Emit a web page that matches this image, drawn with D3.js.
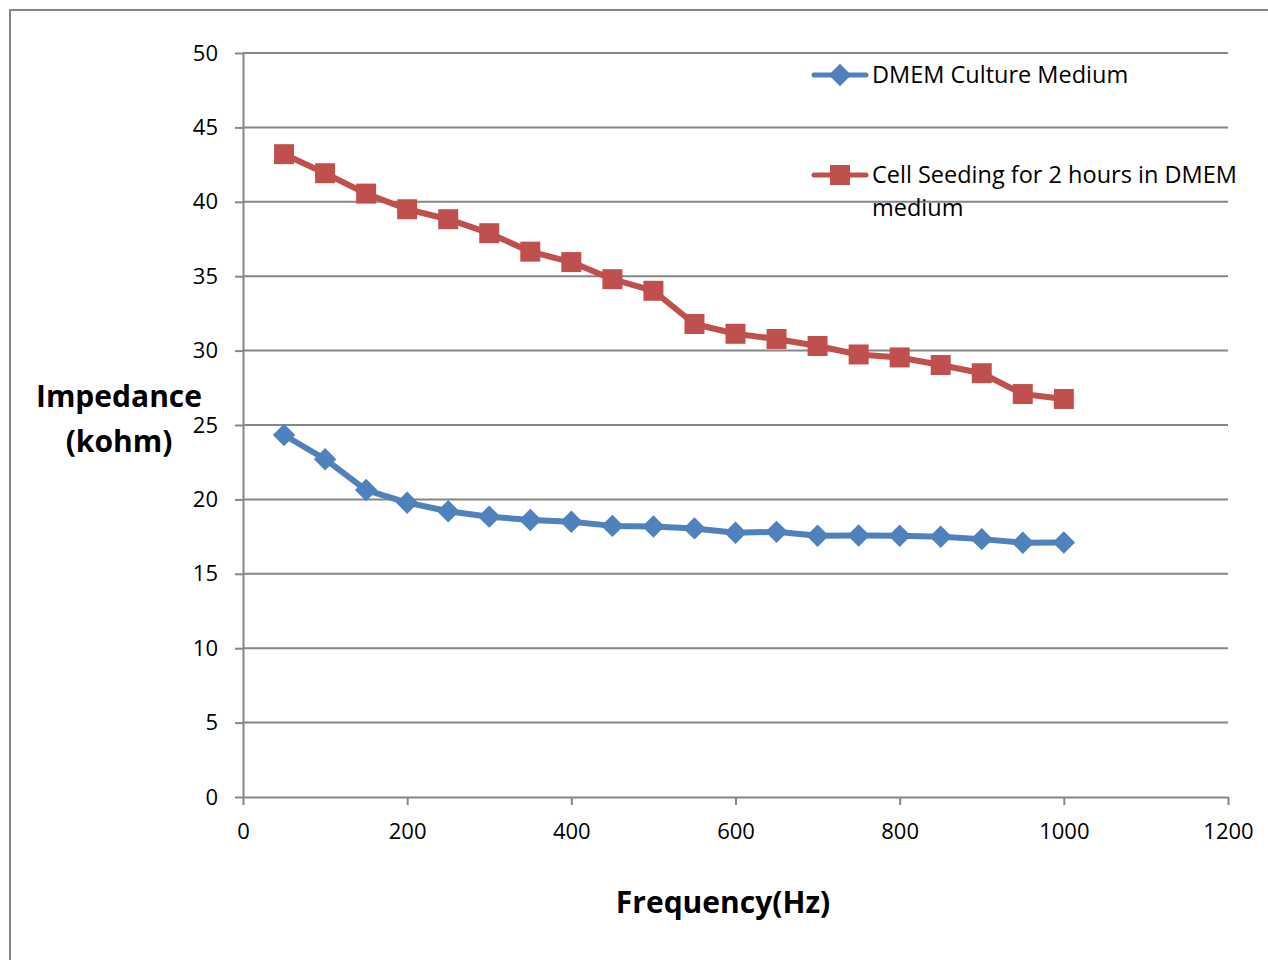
<!DOCTYPE html>
<html>
<head>
<meta charset="utf-8">
<script src="https://cdn.jsdelivr.net/npm/d3@7"></script>
<style>
  body { margin: 0; background: #fff; }
  svg { display: block; font-family: "Open Sans", "Liberation Sans", sans-serif; }
</style>
</head>
<body>
<div id="chart"></div>
<script>
// Frequency (Hz)
const frequencies = [50, 100, 150, 200, 250, 300, 350, 400, 450, 500,
                     550, 600, 650, 700, 750, 800, 850, 900, 950, 1000];
// Impedance (kohm)
const dmemValues = [24.33, 22.7, 20.63, 19.78, 19.2, 18.84, 18.62, 18.5, 18.22, 18.18,
                    18.05, 17.76, 17.82, 17.56, 17.57, 17.56, 17.49, 17.33, 17.09, 17.1];
const seedingValues = [43.2, 41.92, 40.55, 39.5, 38.83, 37.89, 36.65, 35.95, 34.8, 34.02,
                       31.79, 31.13, 30.78, 30.31, 29.74, 29.54, 29.03, 28.48, 27.08, 26.75];
const xTicks = [0, 200, 400, 600, 800, 1000, 1200];
const yTicks = [0, 5, 10, 15, 20, 25, 30, 35, 40, 45, 50];
const seriesNames = ["DMEM Culture Medium", "Cell Seeding for 2 hours in DMEM medium"];

const W = 1268, H = 960;
const margin = {top: 53, right: 40, bottom: 163, left: 243};
const width = 1228 - margin.left;
const height = 797 - margin.top;
const gridColor = "#868686";
const blue = "#4F81BD", red = "#C0504D";

const svg = d3.select("#chart").append("svg")
    .attr("width", W)
    .attr("height", H);

// outer chart border
svg.append("rect")
    .attr("x", 10).attr("y", 10)
    .attr("width", W).attr("height", H)
    .attr("fill", "none")
    .attr("stroke", gridColor)
    .attr("stroke-width", 2);

const g = svg.append("g")
    .attr("transform", `translate(${margin.left},${margin.top})`);

const x = d3.scaleLinear().domain([0, 1200]).range([0, width]);
const y = d3.scaleLinear().domain([0, 50]).range([height, 0]);

// gridlines
g.selectAll("line.grid")
    .data(yTicks.filter(d => d > 0))
    .enter().append("line")
    .attr("class", "grid")
    .attr("x1", 0).attr("x2", width)
    .attr("y1", d => y(d)).attr("y2", d => y(d))
    .style("stroke", gridColor)
    .style("stroke-width", 2);

// axes
const yAxis = g.append("g")
    .call(d3.axisLeft(y).tickValues(yTicks).tickSize(8).tickPadding(17).tickSizeOuter(0));
const xAxis = g.append("g")
    .attr("transform", `translate(0,${height})`)
    .call(d3.axisBottom(x).tickValues(xTicks).tickFormat(d3.format("d"))
        .tickSize(8).tickPadding(18).tickSizeOuter(0));

[xAxis, yAxis].forEach(ax => {
    ax.select(".domain").attr("stroke", gridColor).attr("stroke-width", 2);
    ax.selectAll(".tick line").attr("stroke", gridColor).attr("stroke-width", 2);
    ax.selectAll(".tick text")
        .attr("fill", "#000")
        .style("font-size", "22px")
        .style("font-family", "\"Open Sans\", sans-serif");
});

// series
const series = [
    {name: seriesNames[0], values: dmemValues, color: blue, shape: "diamond"},
    {name: seriesNames[1], values: seedingValues, color: red, shape: "square"}
];

const line = d3.line()
    .x(d => x(d[0]))
    .y(d => y(d[1]));

const symbolFor = shape => shape === "diamond"
    ? d3.symbol().type(d3.symbolDiamond2).size(320)
    : d3.symbol().type(d3.symbolSquare).size(400);

series.forEach(s => {
    const pts = frequencies.map((f, i) => [f, s.values[i]]);
    g.append("path")
        .datum(pts)
        .attr("fill", "none")
        .attr("stroke", s.color)
        .attr("stroke-width", 6)
        .attr("stroke-linejoin", "round")
        .attr("d", line);
    g.selectAll(null)
        .data(pts)
        .enter().append("path")
        .attr("transform", d => `translate(${x(d[0])},${y(d[1])})`)
        .attr("d", symbolFor(s.shape)())
        .attr("fill", s.color);
});

// legend
const legend = svg.append("g");
const legendRows = [
    {s: series[0], y: 75, lines: ["DMEM Culture Medium"]},
    {s: series[1], y: 175, lines: ["Cell Seeding for 2 hours in DMEM", "medium"]}
];
legendRows.forEach(r => {
    legend.append("line")
        .attr("x1", 814).attr("x2", 866)
        .attr("y1", r.y).attr("y2", r.y)
        .attr("stroke", r.s.color)
        .attr("stroke-width", 5)
        .attr("stroke-linecap", "round");
    legend.append("path")
        .attr("transform", `translate(840,${r.y})`)
        .attr("d", symbolFor(r.s.shape)())
        .attr("fill", r.s.color);
    const t = legend.append("text")
        .attr("x", 872)
        .attr("y", r.y + 8)
        .style("font-size", "23.5px")
        .attr("fill", "#000");
    r.lines.forEach((ln, i) => {
        t.append("tspan").attr("x", 872).attr("dy", i === 0 ? 0 : 33).text(ln);
    });
});

// axis titles
const yTitle = svg.append("text")
    .attr("text-anchor", "middle")
    .style("font-size", "30px")
    .style("font-weight", "bold")
    .attr("fill", "#000");
yTitle.append("tspan").attr("x", 119).attr("y", 407).text("Impedance");
yTitle.append("tspan").attr("x", 119).attr("y", 452).text("(kohm)");

svg.append("text")
    .attr("x", 723)
    .attr("y", 913)
    .attr("text-anchor", "middle")
    .style("font-size", "30px")
    .style("font-weight", "bold")
    .attr("fill", "#000")
    .text("Frequency(Hz)");
</script>
</body>
</html>
